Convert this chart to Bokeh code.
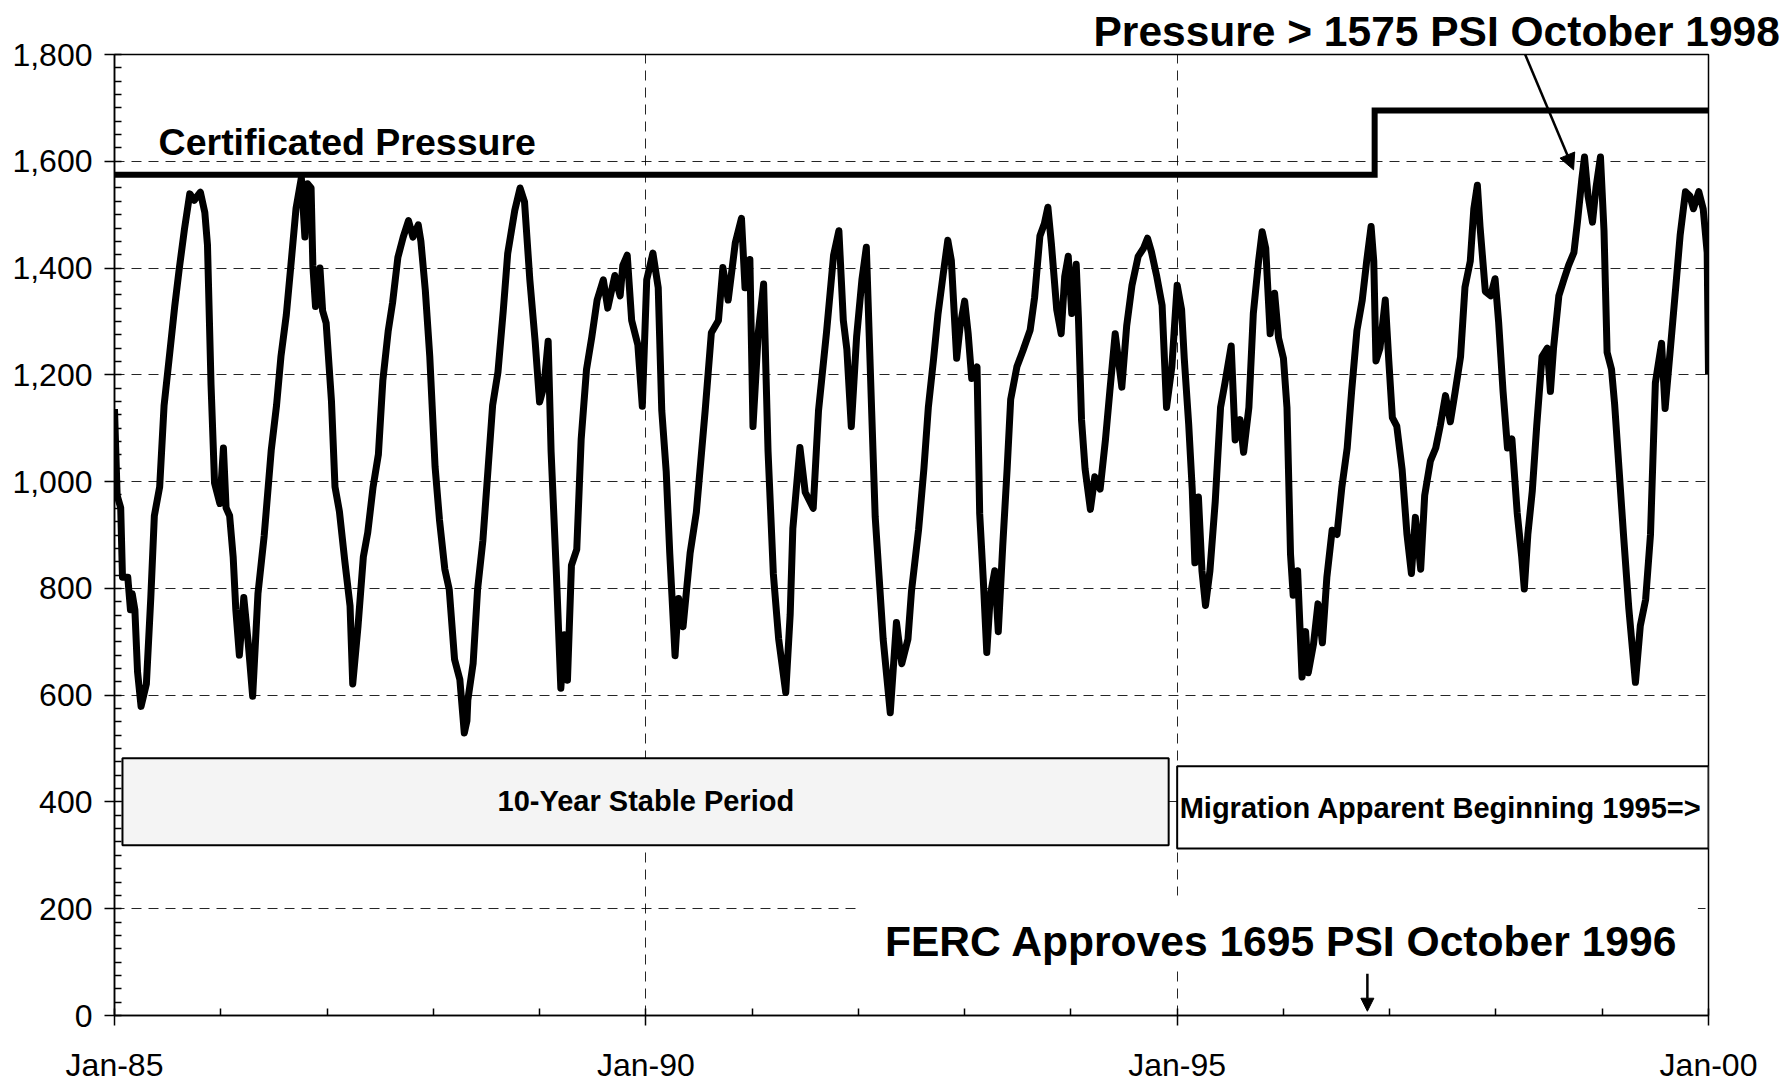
from bokeh.plotting import figure
from bokeh.models import (Range1d, FixedTicker, SingleIntervalTicker, NumeralTickFormatter,
                          Label, Arrow, NormalHead, ColumnDataSource, Title)
from bokeh.embed import file_html
from bokeh.resources import INLINE

# ---------------- data (months since Jan-1985, pressure in PSI) ----------------
months = [0, 0.3, 0.7, 0.9, 1.5, 1.8, 2.0, 2.3, 2.6, 3.0, 3.6, 4.1, 4.5, 5.1, 5.6, 6.2, 6.8, 7.3, 7.9, 8.5,
          9.0, 9.7, 10.2, 10.5, 10.9, 11.3, 11.9, 12.3, 12.6, 13.0, 13.4, 13.7, 14.1, 14.6, 15.1, 15.6, 16.2,
          16.9, 17.7, 18.3, 18.8, 19.4, 20.0, 20.5, 21.1, 21.5, 21.8, 22.2, 22.4, 22.7, 23.2, 23.5, 23.9, 24.5,
          24.9, 25.4, 26.0, 26.6, 26.9, 27.5, 28.1, 28.6, 29.2, 29.8, 30.3, 30.9, 31.4, 32.0, 32.6, 33.2, 33.7,
          34.3, 34.6, 35.1, 35.6, 36.2, 36.7, 37.3, 37.8, 38.4, 39.0, 39.5, 39.8, 39.9, 40.5, 41.0, 41.6, 42.2,
          42.7, 43.3, 43.9, 44.4,
          45.2, 45.8, 46.3, 46.9, 47.5, 48.0, 48.5, 48.97, 49.3, 49.9, 50.4, 50.8, 51.15, 51.6, 52.2, 52.7, 53.3,
          53.9, 54.5, 55.2, 55.7, 56.5, 57.1, 57.4, 57.9, 58.4, 59.1, 59.6, 60.1, 60.8, 61.4, 61.8, 62.3, 62.7,
          63.3, 63.7, 64.2, 65.0, 65.7, 66.7, 67.4, 68.2, 68.7, 69.3, 70.1, 70.8, 71.2, 71.75, 72.1, 72.7, 73.3,
          73.8, 74.4, 75.0, 75.8, 76.3, 76.6, 77.4, 78.0, 78.9, 79.5, 80.4, 81.2, 81.8, 82.3, 82.7, 83.2, 83.8,
          84.4, 84.9, 85.5, 85.9, 86.8, 87.6, 88.3, 88.9, 89.6,
          90.0, 90.8, 91.4, 91.9, 92.5, 93.0, 93.6, 94.1, 94.5, 95.1, 95.5, 96.0, 96.4, 96.8, 97.4, 97.7, 98.1,
          98.5, 98.9, 99.4, 99.8, 100.3, 100.8, 101.2, 101.9, 102.6, 103.4, 103.9, 104.5, 105.0, 105.4, 105.8,
          106.4, 106.9, 107.3, 107.7, 108.1, 108.6, 108.85, 109.2, 109.6, 110.2, 110.7, 111.3, 111.9, 112.4,
          113.0, 113.75, 114.3, 114.9, 115.6, 116.2, 116.65, 117.1, 117.7, 118.3, 118.8, 119.4, 120.0, 120.5,
          120.8, 121.3, 121.7, 122.0, 122.4, 122.8, 123.2, 123.7, 124.3, 124.9, 125.4, 126.1, 126.55, 127.1,
          127.5, 128.1, 128.6, 129.2, 129.6, 130.0, 130.5, 131.0, 131.45, 132.0, 132.4, 132.8, 133.1, 133.6,
          134.1, 134.5, 134.8, 135.4,
          135.9, 136.4, 136.9, 137.5, 138.05, 138.6, 139.2, 139.7, 140.3, 140.9, 141.4, 141.9, 142.2, 142.45,
          142.9, 143.5, 143.9, 144.3, 144.8, 145.4, 145.95, 146.45, 146.9, 147.5, 147.95, 148.6, 149.2, 149.7,
          150.3, 150.85, 151.4, 152.0, 152.5, 153.1, 153.5, 153.9, 154.2, 154.8, 155.4, 155.9, 156.3, 156.8,
          157.3, 157.8, 158.4, 158.9, 159.2, 159.6, 160.1, 160.6, 161.2, 161.8, 162.15, 162.5, 163.1, 163.7,
          164.2, 164.8, 165.2, 165.7, 166.0, 166.4, 166.9, 167.3, 167.8, 168.2, 168.55, 169.05, 169.4, 169.9,
          170.4, 171.0, 171.75, 172.3, 172.9, 173.45, 174.0, 174.7, 175.1, 175.7, 176.3, 176.8, 177.4, 177.9,
          178.3, 178.9, 179.4, 179.85, 180.0]

pressure_psi = [1136, 974, 951, 821, 821, 760, 790, 760, 644, 579, 621, 783, 936, 990, 1143, 1235, 1328, 1397, 1473, 1539,
                1527, 1542, 1504, 1443, 1182, 997, 959, 1063, 951, 936, 859, 760, 675, 783, 698, 598, 790,
                898, 1059, 1143, 1235, 1312, 1420, 1512, 1569, 1458, 1558, 1550, 1404, 1328, 1400, 1320, 1297, 1151,
                990, 944, 852, 767, 621, 729, 859, 905, 990, 1051, 1189, 1281, 1335, 1420, 1458, 1489, 1458,
                1481, 1450, 1358, 1235, 1028, 928, 836, 798, 667, 629, 529, 552, 591, 660, 798, 890, 1028,
                1143, 1205, 1320, 1427,
                1508, 1550, 1524, 1378, 1263, 1149, 1179, 1263, 1057, 827, 613, 713, 628, 843, 873, 1080, 1210,
                1271, 1340, 1378, 1325, 1386, 1348, 1405, 1424, 1302, 1256, 1141, 1378, 1428, 1363, 1133, 1019, 866,
                674, 781, 728, 866, 942, 1133, 1279, 1302, 1401, 1340, 1447, 1493, 1363, 1416, 1103, 1279, 1370,
                1057, 827, 705, 605, 751, 912, 1064, 980, 950, 1133, 1279, 1424, 1470, 1302, 1248, 1103, 1271,
                1378, 1439, 1133, 934, 705, 567, 736, 659, 705,
                795, 910, 1024, 1139, 1231, 1315, 1391, 1452, 1414, 1231, 1292, 1338, 1277, 1193, 1215, 940, 818,
                680, 787, 833, 719, 879, 1024, 1154, 1215, 1246, 1284, 1345, 1460, 1483, 1514, 1445,
                1322, 1277, 1384, 1422, 1315, 1407, 1307, 1116, 1024, 948, 1009, 986, 1078, 1170,
                1277, 1177, 1292, 1368, 1422, 1437, 1456, 1430, 1384, 1330, 1139, 1215, 1368, 1322,
                1231, 1108, 986, 848, 971, 833, 768, 833, 963, 1139, 1185, 1254, 1078, 1116,
                1055, 1139, 1315, 1414, 1468, 1437, 1277, 1353, 1269, 1231, 1139, 864, 787, 833,
                634, 719, 642, 696,
                771, 698, 820, 909, 901, 990, 1063, 1169, 1283, 1340, 1413, 1478, 1413, 1226,
                1250, 1340, 1226, 1120, 1104, 1023, 901, 828, 933, 836, 974, 1039, 1063, 1104,
                1161, 1112, 1169, 1234, 1364, 1413, 1511, 1555, 1478, 1356, 1348, 1380, 1299, 1169,
                1063, 1080, 941, 860, 799, 901, 982, 1104, 1234, 1250, 1169, 1250, 1348, 1380,
                1405, 1429, 1486, 1567, 1608, 1535, 1486, 1551, 1608, 1470, 1242, 1210, 1145, 1023,
                901, 763, 624, 730, 779, 901, 1185, 1259, 1137, 1250, 1364, 1462, 1543, 1535,
                1511, 1543, 1511, 1429, 1200]

cert_months = [0, 142.3, 142.3, 180]
cert_psi = [1575, 1575, 1695, 1695]

x_ticks = [1985, 1990, 1995, 2000]
x_tick_labels = ["Jan-85", "Jan-90", "Jan-95", "Jan-00"]

years = [1985 + m / 12.0 for m in months]
cert_years = [1985 + m / 12.0 for m in cert_months]

FONT = "Liberation Sans"

p = figure(width=1783, height=1085, output_backend="svg", toolbar_location=None,
           x_range=Range1d(1985, 2000), y_range=Range1d(0, 1800),
           min_border_left=114, min_border_right=75, min_border_top=54, min_border_bottom=70,
           background_fill_color="white", border_fill_color="white")

p.outline_line_color = "black"
p.outline_line_width = 1.5

# note above the frame
p.add_layout(Title(text="Pressure > 1575 PSI October 1998", align="left", offset=979,
                   standoff=0, text_font=FONT, text_font_size="42.5px", text_font_style="bold",
                   text_color="black"), "above")

# axes
p.xaxis.ticker = FixedTicker(ticks=x_ticks, minor_ticks=list(range(1985, 2001)))
p.xaxis.major_label_overrides = {t: l for t, l in zip(x_ticks, x_tick_labels)}
p.yaxis.ticker = SingleIntervalTicker(interval=200, num_minor_ticks=8)
p.yaxis.formatter = NumeralTickFormatter(format="0,0")
for ax in (p.xaxis, p.yaxis):
    ax.axis_line_color = "black"
    ax.axis_line_width = 1.5
    ax.major_tick_line_color = "black"
    ax.major_tick_line_width = 1.5
    ax.major_tick_out = 10
    ax.major_tick_in = 0
    ax.minor_tick_line_color = "black"
    ax.minor_tick_line_width = 1.5
    ax.minor_tick_in = 7
    ax.minor_tick_out = 0
    ax.major_label_text_font = FONT
    ax.major_label_text_font_size = "32px"
    ax.major_label_text_color = "black"
p.yaxis.major_label_standoff = 12
p.xaxis.major_label_standoff = 21

# grid
p.xgrid.ticker = FixedTicker(ticks=x_ticks)
p.ygrid.ticker = SingleIntervalTicker(interval=200)
for g in (p.xgrid, p.ygrid):
    g.grid_line_color = "black"
    g.grid_line_alpha = 0.85
    g.grid_line_width = 1
    g.grid_line_dash = "10 7"

# white backing behind the FERC note (hides the grid there)
p.quad(left=[1992.0], right=[1999.9], bottom=[89], top=[225], fill_color="white", line_color=None)

# period boxes
p.quad(left=[1985.075], right=[1994.92], bottom=[319], top=[482],
       fill_color="#f4f4f4", line_color="black", line_width=2)
p.quad(left=[1995.0], right=[2000.0], bottom=[313], top=[467],
       fill_color="white", line_color="black", line_width=2)

# series
src = ColumnDataSource(dict(x=years, y=pressure_psi))
p.line("x", "y", source=src, line_color="black", line_width=7, line_join="round")
p.line(cert_years, cert_psi, line_color="black", line_width=6, line_join="miter")

# texts
def add_label(x, y, text, size, align="left", style="bold"):
    p.add_layout(Label(x=x, y=y, text=text, text_font=FONT, text_font_size=size,
                       text_font_style=style, text_color="black",
                       text_align=align, text_baseline="middle"))

add_label(1985.415, 1637, "Certificated Pressure", "37.5px")
add_label(1992.25, 139, "FERC Approves 1695 PSI October 1996", "42.6px")
add_label(1990.0, 402, "10-Year Stable Period", "29px", align="center")
add_label(1997.48, 389, "Migration Apparent Beginning 1995=>", "29px", align="center")

# arrows
p.add_layout(Arrow(end=NormalHead(size=16, fill_color="black", line_color="black"),
                   x_start=1998.26, y_start=1807, x_end=1998.73, y_end=1584,
                   line_color="black", line_width=2.5))
p.add_layout(Arrow(end=NormalHead(size=13, fill_color="black", line_color="black"),
                   x_start=1996.79, y_start=78, x_end=1996.79, y_end=8,
                   line_color="black", line_width=2.5))

open("out.html", "w").write(file_html(p, INLINE, "Storage field pressure"))
